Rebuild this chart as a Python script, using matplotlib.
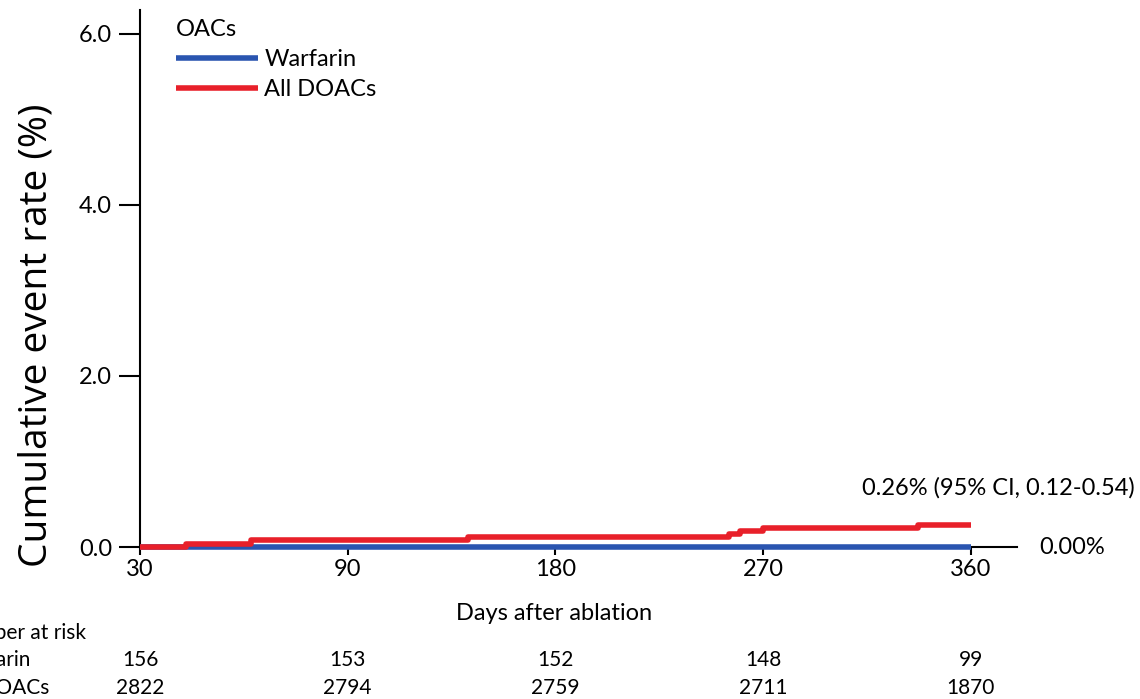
import numpy as np
import matplotlib
matplotlib.use("Agg")
import matplotlib.pyplot as plt
import matplotlib.transforms as mtrans

# Kaplan-Meier style cumulative event curves (days mapped so tick "30" sits at 0)
warf_days = [0, 360]
warf_rate = [0.0, 0.0]
doac_days = [0, 20, 48, 142, 255, 260, 270, 337, 360]
doac_rate = [0.0, 0.04, 0.08, 0.12, 0.15, 0.19, 0.22, 0.26, 0.26]

tick_pos = [0, 90, 180, 270, 360]
tick_lab = ["30", "90", "180", "270", "360"]
y_ticks = [0.0, 2.0, 4.0, 6.0]

risk_warf = [156, 153, 152, 148, 99]
risk_doac = [2822, 2794, 2759, 2711, 1870]

BLUE = "#2a55b0"
RED = "#e8202a"
LFONT = "Lato"
W, H = 1140, 699

fig = plt.figure(figsize=(11.4, 6.99), dpi=100)
ax = fig.add_axes([140/W, 1 - 547/H, (1017-140)/W, (547-10)/H])

ax.step(warf_days, warf_rate, where="post", color=BLUE, lw=4.0, label="Warfarin",
        solid_capstyle="butt", clip_on=False, zorder=5)
ax.step(doac_days, doac_rate, where="post", color=RED, lw=4.0, label="All DOACs",
        solid_capstyle="butt", clip_on=False, zorder=6)

ax.set_xlim(0, 380)
ax.set_ylim(0, 6.28)
ax.set_xticks(tick_pos)
ax.set_xticklabels(tick_lab, fontfamily=LFONT, fontsize=17)
ax.set_yticks(y_ticks)
ax.set_yticklabels([f"{v:.1f}" for v in y_ticks], fontfamily=LFONT, fontsize=17)
ax.tick_params(axis="x", direction="out", length=6, width=1.5, pad=3)
ax.tick_params(axis="y", direction="out", length=15, width=1.5, pad=5)
for s in ("top", "right"):
    ax.spines[s].set_visible(False)
for s in ("left", "bottom"):
    ax.spines[s].set_linewidth(1.5)

fig.text(554/W, 1 - 613/H, "Days after ablation", ha="center", va="center",
         fontfamily=LFONT, fontsize=17)
fig.text(37/W, 1 - 335/H, "Cumulative event rate (%)", ha="center", va="center",
         rotation=90, fontfamily="Open Sans", fontsize=28)

leg = ax.legend(title="OACs", loc="upper left", bbox_to_anchor=(0.03, 1.0),
                frameon=False, handlelength=3.5, handletextpad=0.25,
                labelspacing=0.38, prop={"family": LFONT, "size": 17},
                alignment="left", borderaxespad=0.0)
leg.get_title().set_fontfamily(LFONT)
leg.get_title().set_fontsize(17)

ann = mtrans.blended_transform_factory(fig.transFigure, ax.transData)
ax.text(1135/W, 0.69, "0.26% (95% CI, 0.12-0.54)", transform=ann,
        ha="right", va="center", fontfamily=LFONT, fontsize=17, clip_on=False)
ax.text(1105/W, 0.0, "0.00%", transform=ann,
        ha="right", va="center", fontfamily=LFONT, fontsize=17, clip_on=False)

# number at risk table
bt = mtrans.blended_transform_factory(ax.transData, fig.transFigure)
for x, w, d in zip(tick_pos, risk_warf, risk_doac):
    fig.text(x, 1 - 660/H, str(w), transform=bt, ha="center", va="center",
             fontfamily=LFONT, fontsize=15)
    fig.text(x, 1 - 688/H, str(d), transform=bt, ha="center", va="center",
             fontfamily=LFONT, fontsize=15)
fig.text(-50/W, 1 - 633/H, "Number at risk", ha="left", va="center",
         fontfamily=LFONT, fontsize=15)
fig.text(-50/W, 1 - 660/H, "Warfarin", ha="left", va="center",
         fontfamily=LFONT, fontsize=15)
fig.text(-50/W, 1 - 688/H, "All DOACs", ha="left", va="center",
         fontfamily=LFONT, fontsize=15)

fig.savefig("out.png", dpi=100)
